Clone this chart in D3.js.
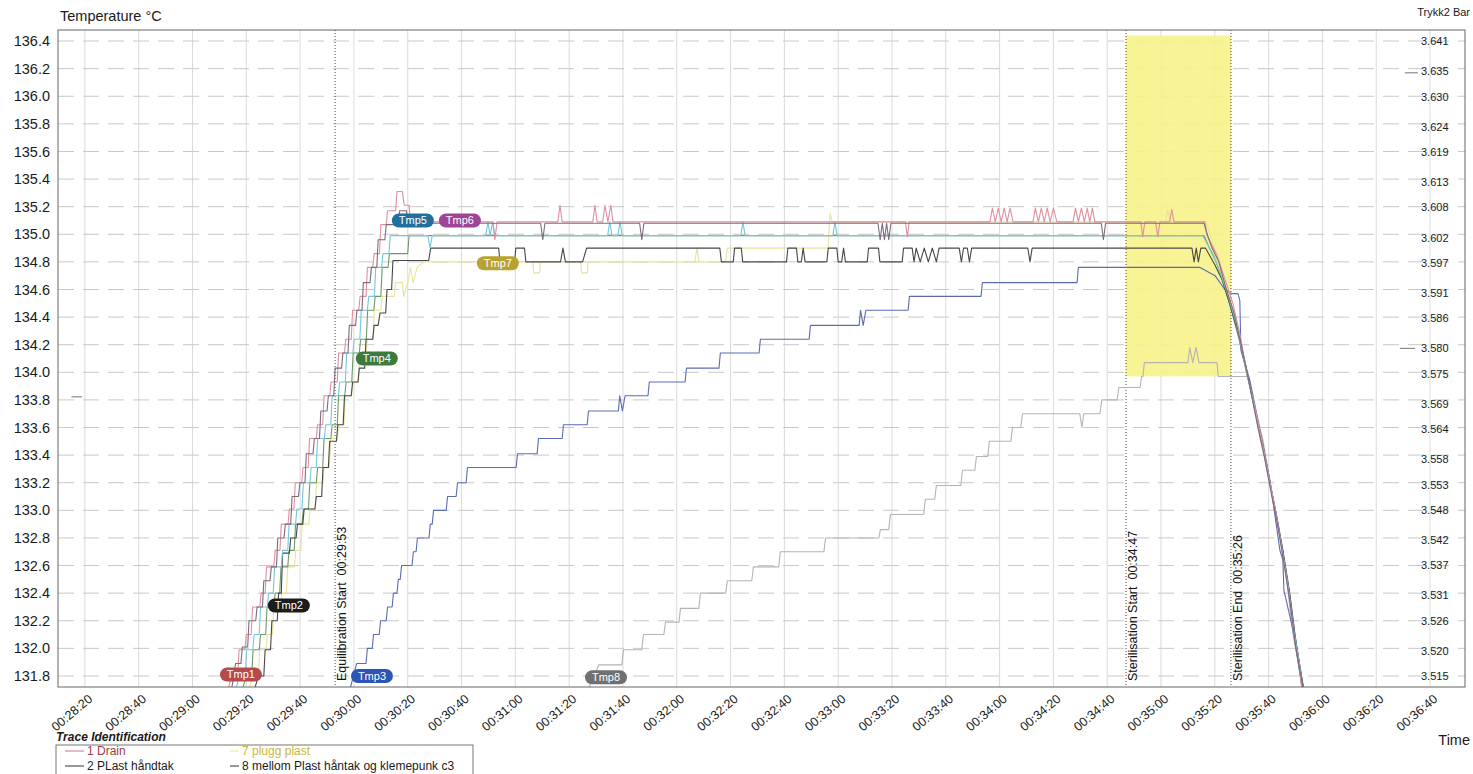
<!DOCTYPE html>
<html>
<head>
<meta charset="utf-8">
<script src="https://cdn.jsdelivr.net/npm/d3@7"></script>
<style>
  body { margin: 0; background: #fff; }
  text { font-family: "Liberation Sans", Arial, sans-serif; }
</style>
</head>
<body>
<svg id="chart" width="1473" height="774"></svg>
<script>
// axis ticks
var timeTicks = ["00:28:20","00:28:40","00:29:00","00:29:20","00:29:40","00:30:00","00:30:20","00:30:40",
  "00:31:00","00:31:20","00:31:40","00:32:00","00:32:20","00:32:40","00:33:00","00:33:20","00:33:40",
  "00:34:00","00:34:20","00:34:40","00:35:00","00:35:20","00:35:40","00:36:00","00:36:20","00:36:40"];
var tempTicks = [136.4,136.2,136.0,135.8,135.6,135.4,135.2,135.0,134.8,134.6,134.4,134.2,134.0,133.8,
  133.6,133.4,133.2,133.0,132.8,132.6,132.4,132.2,132.0,131.8];
var pressTicks = [3.641,3.635,3.630,3.624,3.619,3.613,3.608,3.602,3.597,3.591,3.586,3.580,3.575,3.569,
  3.564,3.558,3.553,3.548,3.542,3.537,3.531,3.526,3.520,3.515];

// events (seconds of day)
var eventNames = ["Equilibration Start  00:29:53", "Sterilisation Start  00:34:47", "Sterilisation End  00:35:26"];
var eventTimes = ["00:29:53", "00:34:47", "00:35:26"];
var holdBand = [133.97, 136.44];   // band between start and end

// traces: [seconds, °C]
var tmp1 = [[1753.2,131.70],[1754.5,131.80],[1756.8,131.80],[1757.3,131.99],[1759.5,131.99],[1760,132.10],[1761.8,132.10],
  [1762.3,132.30],[1765,132.30],[1765.5,132.40],[1767,132.40],[1767.5,132.59],[1770.2,132.59],[1770.7,132.71],[1772.5,132.71],
  [1773,132.90],[1775.5,132.90],[1776,133.01],[1777.7,133.01],[1778.2,133.20],[1780.6,133.20],[1781.1,133.31],[1783,133.31],
  [1783.5,133.52],[1786,133.52],[1786.5,133.62],[1788.4,133.62],[1788.9,133.83],[1791,133.83],[1791.5,133.93],[1793.8,133.93],
  [1794.3,134.14],[1796.5,134.14],[1797,134.24],[1799,134.24],[1799.5,134.45],[1801.8,134.45],[1802.3,134.55],[1804.5,134.55],
  [1805,134.76],[1807,134.76],[1807.5,134.86],[1809.5,134.86],[1810,135.07],[1812,135.07],[1812.5,135.17],[1815.5,135.17],
  [1816,135.31],[1818,135.31],[1818.7,135.21],[1820.5,135.21],[1821,135.09],
  [1851.6,135.09],[1852.4,134.96],[1853.2,135.09],[1875.8,135.09],[1876.6,135.21],[1877.4,135.09],
  [1888.8,135.09],[1889.6,135.21],[1890.4,135.09],[1892.5,135.09],[1893.3,135.21],[1894.4,135.09],[1895.5,135.21],[1896.3,135.09],
  [2005,135.09],[2005.7,134.98],[2006.4,135.09],
  [2036.4,135.09],[2037.3,135.19],[2038.4,135.09],[2039.5,135.19],[2040.6,135.09],[2041.7,135.19],[2042.8,135.09],[2043.9,135.19],[2045,135.09],
  [2052.4,135.09],[2053.3,135.19],[2054.4,135.09],[2055.5,135.19],[2056.6,135.09],[2057.7,135.19],[2058.8,135.09],[2060,135.19],[2061.3,135.09],
  [2067.3,135.09],[2068.2,135.19],[2069.3,135.09],[2070.4,135.19],[2071.5,135.09],[2072.6,135.19],[2073.5,135.09],[2074.5,135.19],[2075.4,135.09],
  [2092.5,135.09],[2093.2,134.98],[2094,135.09],[2098,135.09],[2098.8,134.98],[2099.6,135.09],[2103.2,135.09],[2104,135.18],[2104.8,135.09],
  [2116.3,135.09],[2117,135.0],[2118.2,134.95],[2120.8,134.85],[2123,134.72],[2126.7,134.5],[2129.3,134.28],[2131.9,134.0],
  [2135.6,133.68],[2138,133.45],[2140.5,133.2],[2143,132.95],[2145.3,132.68],[2147.5,132.4],[2149.3,132.1],[2151.2,131.9],[2153,131.6]];

var tmp2 = [[1763,131.70],[1764.5,131.80],[1766.5,131.80],[1767,131.99],[1769,131.99],[1769.5,132.20],[1771.5,132.20],[1772,132.40],
  [1773,132.40],[1773.5,132.69],[1776,132.69],[1776.5,132.80],[1778.5,132.80],[1779,132.90],[1781,132.90],[1781.5,133.01],
  [1785.5,133.01],[1786,133.10],[1788,133.10],[1788.5,133.31],[1790.5,133.31],[1791,133.50],[1793.5,133.50],[1794,133.62],
  [1796,133.62],[1796.5,133.83],[1799,133.83],[1799.5,133.93],[1801.5,133.93],[1802,134.03],[1804,134.03],[1804.5,134.24],
  [1807,134.24],[1807.5,134.34],[1809,134.34],[1809.7,134.43],[1811.8,134.43],[1812.3,134.60],[1814,134.60],[1814.5,134.81],
  [1827.8,134.81],[1828.5,134.90],[1853.8,134.90],[1854.3,134.80],[1859.7,134.80],[1860.2,134.90],[1863.4,134.90],[1863.9,134.80],
  [1876.8,134.80],[1877.7,134.90],[1878.6,134.80],[1885,134.80],[1886.5,134.90],[1936,134.90],[1936.6,134.80],[1941,134.80],
  [1941.5,134.90],[1944,134.90],[1944.5,134.80],[1960.8,134.80],[1961.3,134.90],[1964.5,134.90],[1965,134.80],[1966.3,134.80],
  [1967,134.90],[1967.7,134.80],[1975.8,134.80],[1976.3,134.90],[1979.5,134.90],[1980,134.80],[1981.3,134.80],[1982,134.90],
  [1982.7,134.80],[1990.8,134.80],[1991.3,134.90],[1995,134.90],[1995.5,134.80],[2003.8,134.80],[2004.3,134.90],[2007.5,134.90],
  [2008.2,134.80],[2009,134.90],[2010.5,134.80],[2012,134.90],[2013.5,134.80],[2015,134.90],[2016.5,134.80],[2017.5,134.90],
  [2025,134.90],[2025.8,134.80],[2026.6,134.90],[2028,134.90],[2028.8,134.80],[2029.6,134.90],[2050.5,134.90],[2051.3,134.80],
  [2052.1,134.90],[2111.5,134.90],[2112.3,134.80],[2113.1,134.90],[2113.9,134.80],[2114.8,134.90],
  [2116.5,134.9],[2118,134.85],[2120,134.78],[2122.5,134.68],[2125.5,134.5],[2128.5,134.3],[2131.5,134.05],[2134.8,133.75],
  [2137.8,133.48],[2140.3,133.22],[2142.8,132.98],[2145.4,132.7],[2147.7,132.42],[2149.8,132.1],[2151.8,131.85],[2153.8,131.6]];

var tmp3 = [[1798.5,131.70],[1801,131.89],[1804.5,131.89],[1805,132.0],[1806.8,132.0],[1807.3,132.1],[1809.4,132.1],[1809.9,132.2],
  [1812,132.2],[1812.5,132.3],[1814.2,132.3],[1814.7,132.4],[1816,132.4],[1816.5,132.5],[1817.2,132.5],[1817.7,132.6],
  [1821.6,132.6],[1822.1,132.7],[1823.1,132.7],[1823.6,132.8],[1827.9,132.8],[1828.4,132.9],[1829.1,132.9],[1829.6,133.0],
  [1834.3,133.0],[1834.8,133.1],[1838,133.1],[1838.5,133.2],[1841.7,133.2],[1842.2,133.31],[1860.3,133.31],[1860.8,133.41],
  [1868.1,133.41],[1868.6,133.52],[1877.4,133.52],[1877.9,133.62],[1886.7,133.62],[1887.2,133.72],[1898.3,133.72],[1898.8,133.83],
  [1899.8,133.72],[1900.8,133.83],[1909.3,133.83],[1909.8,133.93],[1923.1,133.93],[1923.6,134.03],[1935.7,134.03],[1936.2,134.14],
  [1950.6,134.14],[1951.1,134.24],[1969.2,134.24],[1969.7,134.34],[1987.8,134.34],[1988.3,134.45],[1989.3,134.34],[1990.3,134.45],
  [2006,134.45],[2006.5,134.55],[2033.1,134.55],[2033.6,134.65],[2068.8,134.65],[2069.3,134.76],[2114.5,134.76],
  [2120.1,134.70],[2123.7,134.60],[2126.3,134.57],[2128.6,134.57],[2129.3,134.52],[2129.7,134.16],[2133,133.94],[2136.7,133.58],
  [2140.5,133.22],[2144.2,132.71],[2145.3,132.64],[2145.7,132.42],[2149.1,132.13],[2152.4,131.72],[2153.5,131.62]];

var tmp4 = [[1758.5,131.70],[1760,131.80],[1762,131.80],[1762.5,131.99],[1764.8,131.99],[1765.3,132.10],[1767.2,132.10],
  [1767.7,132.30],[1770.2,132.30],[1770.7,132.40],[1772.4,132.40],[1772.9,132.59],[1775.4,132.59],[1775.9,132.71],[1777.8,132.71],
  [1778.3,132.90],[1780.7,132.90],[1781.2,133.01],[1783.1,133.01],[1783.6,133.20],[1786,133.20],[1786.5,133.31],[1788.4,133.31],
  [1788.9,133.52],[1791.4,133.52],[1791.9,133.62],[1793.8,133.62],[1794.3,133.83],[1796.6,133.83],[1797.1,133.93],[1799.2,133.93],
  [1799.7,134.14],[1802,134.14],[1802.5,134.24],[1804.6,134.24],[1805.1,134.45],[1807.4,134.45],[1807.9,134.55],[1810,134.55],
  [1810.5,134.76],[1812.7,134.76],[1813.2,134.86],[1820,134.86],[1820.5,134.99],[2116,134.99],
  [2118,134.9],[2120.5,134.8],[2123,134.66],[2126,134.46],[2129,134.24],[2132,133.98],[2135.2,133.7],[2138.2,133.42],
  [2140.8,133.16],[2143.2,132.92],[2145.6,132.66],[2147.9,132.38],[2150,132.06],[2152,131.82],[2154,131.6]];

var tmp5 = [[1756,131.70],[1757.5,131.80],[1759.6,131.80],[1760.1,131.99],[1762.4,131.99],[1762.9,132.10],[1764.8,132.10],
  [1765.3,132.30],[1767.8,132.30],[1768.3,132.40],[1770,132.40],[1770.5,132.59],[1773,132.59],[1773.5,132.71],[1775.4,132.71],
  [1775.9,132.90],[1778.3,132.90],[1778.8,133.01],[1780.7,133.01],[1781.2,133.20],[1783.6,133.20],[1784.1,133.31],[1786,133.31],
  [1786.5,133.52],[1789,133.52],[1789.5,133.62],[1791.4,133.62],[1791.9,133.83],[1794.2,133.83],[1794.7,133.93],[1796.8,133.93],
  [1797.3,134.14],[1799.6,134.14],[1800.1,134.24],[1802.2,134.24],[1802.7,134.45],[1805,134.45],[1805.5,134.55],[1807.6,134.55],
  [1808.1,134.76],[1810.3,134.76],[1810.8,134.86],[1813,134.86],[1813.5,134.99],
  [1827.5,134.99],[1828.3,134.9],[1829.1,134.99],[1849,134.99],[1849.8,135.09],[1850.6,134.99],[1851.6,135.09],[1852.4,134.99],
  [1894.3,134.99],[1895.1,135.09],[1895.9,134.99],[1898.1,134.99],[1898.9,135.09],[1899.7,134.99],
  [1943.8,134.99],[1944.6,135.09],[1945.4,134.99],[1978,134.99],[1978.8,135.09],[1979.6,134.99],
  [2115.5,134.99],[2117.5,134.92],[2119.5,134.85],[2122,134.72],[2125,134.55],[2128,134.35],[2131,134.08],[2134.5,133.78],
  [2137.5,133.5],[2140,133.25],[2142.5,133.0],[2145,132.72],[2147.3,132.45],[2149.5,132.12],[2151.5,131.88],[2153.5,131.62]];

var tmp6 = [[1754.5,131.70],[1756,131.89],[1758,131.89],[1758.5,132.01],[1760.5,132.01],[1761,132.20],[1763.5,132.20],
  [1764,132.30],[1766,132.30],[1766.5,132.49],[1768.8,132.49],[1769.3,132.59],[1771.2,132.59],[1771.7,132.80],[1774,132.80],
  [1774.5,132.90],[1776.5,132.90],[1777,133.10],[1779.4,133.10],[1779.9,133.20],[1781.8,133.20],[1782.3,133.41],[1784.8,133.41],
  [1785.3,133.52],[1787.2,133.52],[1787.7,133.72],[1790,133.72],[1790.5,133.83],[1792.5,133.83],[1793,134.03],[1795.4,134.03],
  [1795.9,134.14],[1797.8,134.14],[1798.3,134.34],[1800.6,134.34],[1801.1,134.45],[1803,134.45],[1803.5,134.65],[1806,134.65],
  [1806.5,134.76],[1808.5,134.76],[1809,134.96],[1811.5,134.96],[1812,135.07],[1816.5,135.07],[1817,135.17],[1819.5,135.17],
  [1820,135.08],[1869.4,135.08],[1870.2,134.96],[1871,135.08],[1906.2,135.08],[1907,134.96],[1907.8,135.08],
  [1994.8,135.08],[1995.6,134.96],[1996.4,135.08],[1997.2,134.96],[1998,135.08],[1998.8,134.96],[1999.6,135.08],
  [2077.8,135.08],[2078.6,134.96],[2079.4,135.08],
  [2116,135.08],[2117.5,134.98],[2119,134.9],[2121.5,134.8],[2124,134.62],[2127,134.44],[2129.8,134.2],[2132.5,133.95],
  [2136,133.6],[2138.5,133.38],[2141,133.12],[2143.5,132.88],[2145.8,132.6],[2148,132.33],[2150,132.02],[2152,131.8],[2154,131.6]];

var tmp7 = [[1761,131.70],[1762.5,131.80],[1764.5,131.80],[1765,131.99],[1767.3,131.99],[1767.8,132.10],[1769.7,132.10],
  [1770.2,132.30],[1772.7,132.30],[1773.2,132.40],[1774.9,132.40],[1775.4,132.59],[1777.9,132.59],[1778.4,132.71],[1780.3,132.71],
  [1780.8,132.90],[1783.2,132.90],[1783.7,133.01],[1785.6,133.01],[1786.1,133.20],[1788.5,133.20],[1789,133.31],[1790.9,133.31],
  [1791.4,133.52],[1793.9,133.52],[1794.4,133.62],[1796.3,133.62],[1796.8,133.83],[1799.1,133.83],[1799.6,133.93],[1801.7,133.93],
  [1802.2,134.14],[1804.5,134.14],[1805,134.24],[1807.1,134.24],[1807.6,134.45],[1810,134.45],[1810.5,134.55],[1815,134.55],
  [1815.5,134.65],[1818,134.65],[1818.5,134.55],[1820,134.65],[1821,134.76],[1822,134.65],[1823.5,134.76],[1826,134.8],
  [1866.5,134.8],[1866.8,134.72],[1869,134.72],[1869.3,134.8],[1884.3,134.8],[1884.6,134.72],[1886.8,134.72],[1887.1,134.8],
  [1926.7,134.8],[1927.5,134.9],[1928.3,134.8],[1938.2,134.8],[1938.8,134.9],[1976.2,134.9],[1977,135.15],[1977.8,135.09],
  [2101.7,135.09],[2102.5,135.18],[2103.3,135.09],[2116.8,135.09],
  [2118.5,134.98],[2120.5,134.86],[2123.5,134.66],[2126.5,134.45],[2129.5,134.2],[2132.8,133.92],[2136.2,133.62],[2139,133.36],
  [2141.5,133.1],[2144,132.84],[2146.3,132.56],[2148.5,132.28],[2150.5,132.0],[2152.5,131.78],[2154.5,131.6]];

var tmp8 = [[1887,131.70],[1891,131.88],[1899.6,131.88],[1900.2,131.99],[1907,131.99],[1907.6,132.10],[1915.2,132.10],
  [1915.8,132.19],[1920.8,132.19],[1921.4,132.29],[1928.2,132.29],[1928.8,132.40],[1938.2,132.40],[1938.8,132.49],[1947.9,132.49],
  [1948.5,132.59],[1957.9,132.59],[1958.5,132.70],[1974.7,132.70],[1975.3,132.80],[1995.1,132.80],[1995.7,132.86],[1998.8,132.86],
  [1999.4,132.97],[2011.8,132.97],[2012.4,133.08],[2015.9,133.08],[2016.5,133.18],[2025.6,133.18],[2026.2,133.29],[2030.8,133.29],
  [2031.4,133.39],[2035.6,133.39],[2036.2,133.50],[2044.2,133.50],[2044.8,133.60],[2047.9,133.60],[2048.5,133.70],[2069.8,133.70],
  [2070.6,133.60],[2071.3,133.70],[2077.3,133.70],[2078,133.80],[2083.7,133.80],[2084.3,133.89],[2092.2,133.89],[2092.8,133.97],
  [2093.3,133.97],[2093.8,134.07],[2110,134.07],[2110.7,134.18],[2111.8,134.07],[2113,134.18],[2114.1,134.07],[2120.8,134.07],
  [2121.3,133.97],[2132.7,133.97],[2135.6,133.70],[2138,133.5],[2140.5,133.2],[2143,132.95],[2145.3,132.71],[2147,132.45],
  [2149,132.11],[2151,131.9],[2153,131.65]];

// Trykk2 fragments inside the window: [seconds, bar]
var trykk2 = [[[1695,3.5704],[1699,3.5704]], [[2188.8,3.5800],[2194.4,3.5800]], [[2190.7,3.6347],[2195.5,3.6347]]];

// tag labels (name, time, value)
var tagNames = ["Tmp1","Tmp2","Tmp3","Tmp4","Tmp5","Tmp6","Tmp7","Tmp8"];
var tagTimes = [1758, 1775.8, 1806.7, 1808.5, 1821.9, 1839.4, 1853.5, 1893.7];
var tagValues = [131.81, 132.31, 131.80, 134.10, 135.10, 135.10, 134.79, 131.79];

var legendNames = ["1 Drain", "2 PLast håndtak", "7 plugg plast", "8 mellom Plast håntak og klemepunk c3"];

// styles
var traceColors = ["#e08fa0", "#474747", "#5b6cb6", "#6d9a62", "#74c8de", "#7d6a7e", "#e9e29a", "#b4b4b4"];
var tagColors = ["#b44a4e", "#1c1c1c", "#2c55b4", "#3d7a3d", "#1f6f9f", "#a04496", "#b9a232", "#707070"];

var svg = d3.select("#chart");
var L = 58, T = 30, R = 1465, B = 687;

function sec(s) { var p = s.split(":").map(Number); return p[0] * 3600 + p[1] * 60 + p[2]; }

var x = d3.scaleLinear().domain([1690, 2213]).range([L, R]);
var y = d3.scaleLinear().domain([131.72, 136.48]).range([B, T]);
var yP = d3.scaleLinear().domain([3.515, 3.641]).range([y(131.8), y(136.4)]);

svg.append("defs").append("clipPath").attr("id", "plot")
  .append("rect").attr("x", L).attr("y", T).attr("width", R - L).attr("height", B - T);

// vertical grid
svg.append("g").selectAll("line").data(timeTicks).join("line")
  .attr("x1", function(d) { return x(sec(d)); }).attr("x2", function(d) { return x(sec(d)); })
  .attr("y1", T).attr("y2", B)
  .attr("stroke", "#dadada").attr("stroke-width", 1);

// horizontal grid (dashed)
svg.append("g").selectAll("line").data(tempTicks).join("line")
  .attr("x1", L).attr("x2", R)
  .attr("y1", function(d) { return y(d); }).attr("y2", function(d) { return y(d); })
  .attr("stroke", "#c8c8c8").attr("stroke-width", 1).attr("stroke-dasharray", "16,9");

// hold band
svg.append("rect")
  .attr("x", x(sec(eventTimes[1]))).attr("width", x(sec(eventTimes[2])) - x(sec(eventTimes[1])))
  .attr("y", y(holdBand[1])).attr("height", y(holdBand[0]) - y(holdBand[1]))
  .attr("fill", "#f7f28a").attr("fill-opacity", 0.9);

// event lines
var ev = svg.append("g");
ev.selectAll("line").data(eventTimes).join("line")
  .attr("x1", function(d) { return x(sec(d)); }).attr("x2", function(d) { return x(sec(d)); })
  .attr("y1", T).attr("y2", B)
  .attr("stroke", "#444").attr("stroke-width", 1).attr("stroke-dasharray", "1,2");
ev.selectAll("text").data(eventNames).join("text")
  .attr("transform", function(d, i) { return "translate(" + (x(sec(eventTimes[i])) + 11) + "," + (B - 6) + ") rotate(-90)"; })
  .attr("font-size", 12.5).attr("fill", "#111")
  .style("white-space", "pre")
  .text(function(d) { return d; });

// traces
var line = d3.line().x(function(d) { return x(d[0]); }).y(function(d) { return y(d[1]); });
var traces = [tmp8, tmp7, tmp4, tmp3, tmp2, tmp5, tmp1, tmp6];
var traceIdx = [7, 6, 3, 2, 1, 4, 0, 5];
var plot = svg.append("g").attr("clip-path", "url(#plot)");
plot.selectAll("path.tr").data(traces).join("path")
  .attr("class", "tr")
  .attr("d", line)
  .attr("fill", "none")
  .attr("stroke", function(d, i) { return traceColors[traceIdx[i]]; })
  .attr("stroke-width", 1.1)
  .attr("stroke-linejoin", "round");

var lineP = d3.line().x(function(d) { return x(d[0]); }).y(function(d) { return yP(d[1]); });
plot.selectAll("path.p").data(trykk2).join("path")
  .attr("class", "p")
  .attr("d", lineP).attr("fill", "none").attr("stroke", "#8a8a8a").attr("stroke-width", 1.2);

// tags
var tags = svg.append("g").selectAll("g").data(tagNames).join("g")
  .attr("transform", function(d, i) { return "translate(" + x(tagTimes[i]) + "," + y(tagValues[i]) + ")"; });
tags.append("rect")
  .attr("x", -21).attr("y", -7).attr("width", 42).attr("height", 14).attr("rx", 7)
  .attr("fill", function(d, i) { return tagColors[i]; });
tags.append("text")
  .attr("text-anchor", "middle").attr("dy", "0.35em")
  .attr("font-size", 11).attr("fill", "#fff")
  .text(function(d) { return d; });

// frame
svg.append("rect").attr("x", L).attr("y", T).attr("width", R - L).attr("height", B - T)
  .attr("fill", "none").attr("stroke", "#666").attr("stroke-width", 1);

// left axis
var ax = svg.append("g").attr("transform", "translate(" + L + ",0)")
  .call(d3.axisLeft(y).tickValues(tempTicks).tickSize(0).tickPadding(8).tickFormat(d3.format(".1f")));
ax.select(".domain").remove();
ax.selectAll("text").attr("font-size", 14.5).attr("fill", "#1a1a1a").attr("font-family", "'Liberation Sans', Arial, sans-serif");

// right axis
var axR = svg.append("g").attr("transform", "translate(1415,0)")
  .call(d3.axisRight(yP).tickValues(pressTicks).tickSize(0).tickPadding(6).tickFormat(d3.format(".3f")));
axR.select(".domain").remove();
axR.selectAll("text").attr("font-size", 11).attr("fill", "#1a1a1a").attr("font-family", "'Liberation Sans', Arial, sans-serif");

// bottom axis
var axB = svg.append("g").attr("transform", "translate(0," + B + ")")
  .call(d3.axisBottom(x).tickValues(timeTicks.map(sec)).tickSize(0).tickFormat(function(d, i) { return timeTicks[i]; }));
axB.select(".domain").remove();
axB.selectAll("text")
  .attr("y", 0).attr("dy", "0.35em")
  .attr("transform", "translate(5,10) rotate(-40)")
  .attr("text-anchor", "end")
  .attr("font-size", 12.5).attr("fill", "#1a1a1a").attr("font-family", "'Liberation Sans', Arial, sans-serif");

// titles
svg.append("text").attr("x", 60).attr("y", 21).attr("font-size", 14.5).attr("fill", "#1a1a1a").text("Temperature °C");
svg.append("text").attr("x", 1470).attr("y", 16).attr("text-anchor", "end").attr("font-size", 11).attr("fill", "#1a1a1a").text("Trykk2 Bar");
svg.append("text").attr("x", 1470).attr("y", 745).attr("text-anchor", "end").attr("font-size", 14.5).attr("fill", "#1a1a1a").text("Time");

// legend
svg.append("text").attr("x", 56).attr("y", 741).attr("font-size", 12).attr("font-weight", "bold")
  .attr("font-style", "italic").attr("fill", "#1a1a1a").text("Trace Identification");
svg.append("rect").attr("x", 56).attr("y", 745).attr("width", 417).attr("height", 45)
  .attr("fill", "none").attr("stroke", "#777").attr("stroke-width", 1);
var legX = [65, 65, 220, 220], legY = [751, 766, 751, 766];
var legColors = ["#c77a8a", "#333", "#e9e29a", "#333"];
var legText = ["#9c3c44", "#1a1a1a", "#c9b73e", "#1a1a1a"];
var leg = svg.append("g").selectAll("g").data(legendNames).join("g")
  .attr("transform", function(d, i) { return "translate(" + legX[i] + "," + legY[i] + ")"; });
leg.append("line").attr("x1", function(d, i) { return i < 2 ? 0 : 10; }).attr("x2", 19).attr("y1", 0).attr("y2", 0)
  .attr("stroke", function(d, i) { return legColors[i]; }).attr("stroke-width", 1);
leg.append("text").attr("x", 22).attr("dy", "0.35em").attr("font-size", 12)
  .attr("fill", function(d, i) { return legText[i]; })
  .text(function(d) { return d; });
</script>
</body>
</html>
